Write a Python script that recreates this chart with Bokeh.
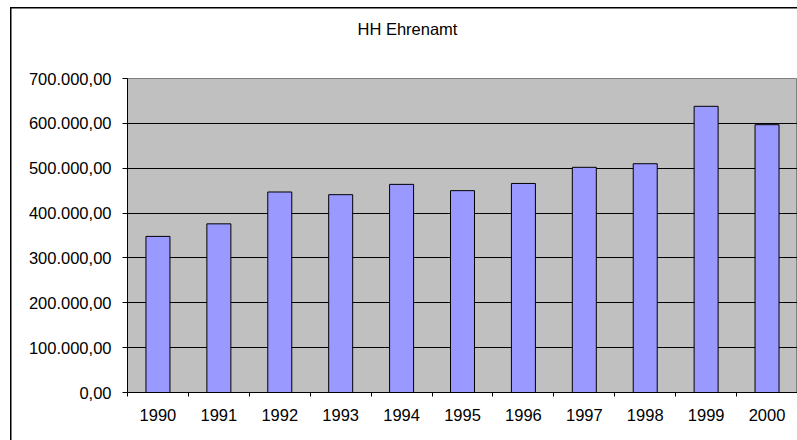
from bokeh.plotting import figure
from bokeh.models import Range1d, FixedTicker, ColumnDataSource, Title
from bokeh.embed import file_html
from bokeh.resources import INLINE

years = ["1990", "1991", "1992", "1993", "1994", "1995", "1996", "1997", "1998", "1999", "2000"]
values = [348000, 376000, 447000, 441000, 464000, 450000, 466000, 502000, 510000, 638000, 597000]
y_ticks = [0, 100000, 200000, 300000, 400000, 500000, 600000, 700000]
title_text = "HH Ehrenamt"


def de_format(v):
    s = f"{v:,.2f}"
    return s.replace(",", "X").replace(".", ",").replace("X", ".")


x_centers = [i + 0.5 for i in range(len(years))]
src = ColumnDataSource(dict(x=x_centers, top=values))

p = figure(
    output_backend="svg", toolbar_location=None,
    frame_width=670, frame_height=314,
    min_border_left=127, min_border_right=0, min_border_top=78, min_border_bottom=48,
    x_range=Range1d(0, len(years)), y_range=Range1d(0, 700000),
)
p.background_fill_color = "#C0C0C0"
p.border_fill_alpha = 0
p.outline_line_color = "#808080"
p.outline_line_width = 1

# outer chart border drawn on the host element (visible through the transparent border fill)
p.styles = {
    "background": "linear-gradient(black, black) 10px 7px / 1.5px 100% no-repeat, "
                  "linear-gradient(black, black) 10px 7px / 100% 1.5px no-repeat, white"
}

# blank spacer between the title and the plot area, then the title itself
p.add_layout(Title(text=" ", text_font_size="24px", standoff=12), "above")
p.add_layout(Title(text=title_text, align="left", offset=230, standoff=0,
                   text_font="Liberation Sans", text_font_size="16.5px",
                   text_font_style="normal", text_color="black"), "above")

p.vbar(x="x", top="top", width=0.394, source=src, fill_color="#9999FF",
       line_color="black", line_width=1)

p.xgrid.visible = False
p.ygrid.grid_line_color = "black"
p.ygrid.grid_line_width = 1
p.ygrid.ticker = FixedTicker(ticks=y_ticks)

p.yaxis.ticker = FixedTicker(ticks=y_ticks)
p.yaxis.major_label_overrides = {t: de_format(t) for t in y_ticks}
p.yaxis.major_tick_out = 5
p.yaxis.major_tick_in = 0
p.yaxis.minor_tick_out = 0
p.yaxis.minor_tick_in = 0
p.yaxis.axis_line_color = "black"
p.yaxis.major_tick_line_color = "black"
p.yaxis.major_label_standoff = 11
p.yaxis.major_label_text_font = "Liberation Sans"
p.yaxis.major_label_text_font_size = "16.5px"
p.yaxis.major_label_text_color = "black"

p.xaxis.ticker = FixedTicker(ticks=x_centers, minor_ticks=list(range(len(years) + 1)))
p.xaxis.major_label_overrides = {c: y for c, y in zip(x_centers, years)}
p.xaxis.major_tick_out = 0
p.xaxis.major_tick_in = 0
p.xaxis.minor_tick_out = 4
p.xaxis.minor_tick_in = 0
p.xaxis.minor_tick_line_color = "black"
p.xaxis.axis_line_color = "black"
p.xaxis.major_label_standoff = 12
p.xaxis.major_label_text_font = "Liberation Sans"
p.xaxis.major_label_text_font_size = "16.5px"
p.xaxis.major_label_text_color = "black"

open("out.html", "w").write(file_html(p, INLINE))
